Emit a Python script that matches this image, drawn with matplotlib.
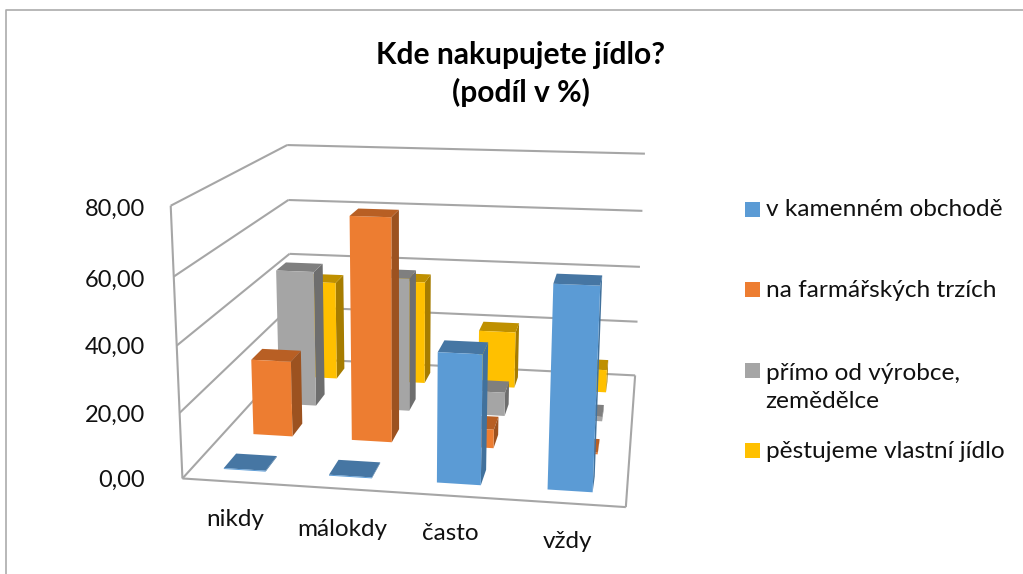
#!/usr/bin/env python3
"""Kde nakupujete jidlo? - Excel style 3D column chart."""
import numpy as np
import matplotlib
matplotlib.use("Agg")
import matplotlib.pyplot as plt
from matplotlib.patches import Rectangle
from matplotlib.lines import Line2D
from mpl_toolkits.mplot3d.art3d import Line3DCollection

W, H = 1023, 574
plt.rcParams['font.family'] = ['Lato', 'DejaVu Sans']

categories = ['nikdy', 'málokdy', 'často', 'vždy']
series = ['v kamenném obchodě', 'na farmářských trzích',
          'přímo od výrobce,\nzemědělce', 'pěstujeme vlastní jídlo']
v_obchode = [0.3, 0.3, 39, 60]
na_trzich = [24.5, 71, 6, 0.5]
od_vyrobce = [46, 45, 8, 1.5]
vlastni = [35, 36.5, 20, 8]
values = [v_obchode, na_trzich, od_vyrobce, vlastni]
z_ticks = [0, 20, 40, 60, 80]
z_labels = ['0,00', '20,00', '40,00', '60,00', '80,00']

# front, top, side colour per series
front = ['#5B9BD5', '#ED7D31', '#A5A5A5', '#FFC000']
top = ['#4676A3', '#B85F24', '#7F7F7F', '#BF9000']
side = ['#41719C', '#9C5220', '#6E6E6E', '#A67C00']
GRID = '#A6A6A6'

# camera: box corners (x, y, z) and where they land in the picture (pixels)
box_pts = [(0, 0, 0), (0, 0, 20), (0, 0, 40), (0, 0, 60), (0, 0, 80),
           (0, 4, 20), (0, 4, 40), (0, 4, 60), (0, 4, 80),
           (4, 4, 0), (4, 4, 20), (4, 4, 40), (4, 4, 60), (4, 4, 80),
           (4, 0, 0)]
pix_pts = [(181.7, 478.3), (180, 412.7), (177.3, 345.7), (175, 276), (169.3, 206),
           (290.7, 308), (289.3, 253), (288.3, 200), (287.3, 145),
           (635, 375), (637.7, 321.3), (640, 266.7), (642.3, 211), (645, 154),
           (625.7, 507.7)]


def fit_camera(pts, pix):
    rows = []
    for (x, y, z), (u, v) in zip(pts, pix):
        v = H - v
        rows.append([x, y, z, 1, 0, 0, 0, 0, -u*x, -u*y, -u*z, -u])
        rows.append([0, 0, 0, 0, x, y, z, 1, -v*x, -v*y, -v*z, -v])
    P = np.linalg.svd(np.array(rows, dtype=float))[2][-1].reshape(3, 4)
    if P[2, 3] < 0:
        P = -P
    return np.array([P[0], P[1], [0, 0, 0, -1.0], P[2]])


fig = plt.figure(figsize=(W/100, H/100), dpi=100)
ax = fig.add_axes([0, 0, 1, 1], projection='3d')
ax.set_axis_off()
ax.computed_zorder = False
M = fit_camera(box_pts, pix_pts)
ax.get_proj = lambda: M
ax.apply_aspect = lambda position=None: None

# walls and floor
segs = []
for z in z_ticks:
    segs.append([(0, 0, z), (0, 4, z)])
    segs.append([(0, 4, z), (4, 4, z)])
segs.append([(0, 0, 0), (0, 0, 80)])
segs.append([(0, 0, 0), (4, 0, 0)])
segs.append([(4, 0, 0), (4, 4, 0)])
grid = Line3DCollection(segs, colors=GRID, linewidths=1.5, zorder=2)
ax.add_collection3d(grid)

# bars, back row first, left to right
none = (0, 0, 0, 0)
for s in range(3, -1, -1):
    for c in range(4):
        coll = ax.bar3d(c + 0.3, s + 0.3, 0, 0.4, 0.4, values[s][c], shade=False,
                        color=[none, top[s], front[s], none, none, side[s]],
                        linewidth=0)
        coll.set_zorder(10 + (3 - s)*10 + c)

ax.viewLim.intervalx = (0, W)
ax.viewLim.intervaly = (0, H)


def px_text(x, y, s, **kw):
    return fig.text(x/W, 1 - y/H, s, **kw)


# axis labels
for lab, y in zip(z_labels, [480, 415, 347, 280, 209]):
    px_text(145, y, lab, ha='right', va='center', fontsize=17, color='#111111')
for lab, x, y in zip(categories, [235, 342, 450, 567], [520, 530, 534, 542]):
    px_text(x, y, lab, ha='center', va='center', fontsize=17.5, color='#111111')

px_text(521, 55, 'Kde nakupujete jídlo?', ha='center', va='center',
        fontsize=21.6, fontweight='bold', color='black')
px_text(521, 92, '(podíl v %)', ha='center', va='center',
        fontsize=21.6, fontweight='bold', color='black')

# legend
for name, col, y, ty in zip(series, front, [209.5, 289.5, 370.5, 450.5],
                            [209.5, 290.5, 387.5, 451.5]):
    fig.add_artist(Rectangle((745/W, 1 - (y + 7.5)/H), 15/W, 15/H, color=col,
                             transform=fig.transFigure, lw=0))
    px_text(765.5, ty, name, ha='left', va='center', fontsize=17.6, color='#111111',
            linespacing=1.44)

# chart frame
fig.add_artist(Line2D([5.7/W, 5.7/W, 1], [0, 1 - 9.7/H, 1 - 9.7/H], color='#ABABAB',
                      lw=1.2, transform=fig.transFigure))

fig.savefig('out.png', dpi=100)
